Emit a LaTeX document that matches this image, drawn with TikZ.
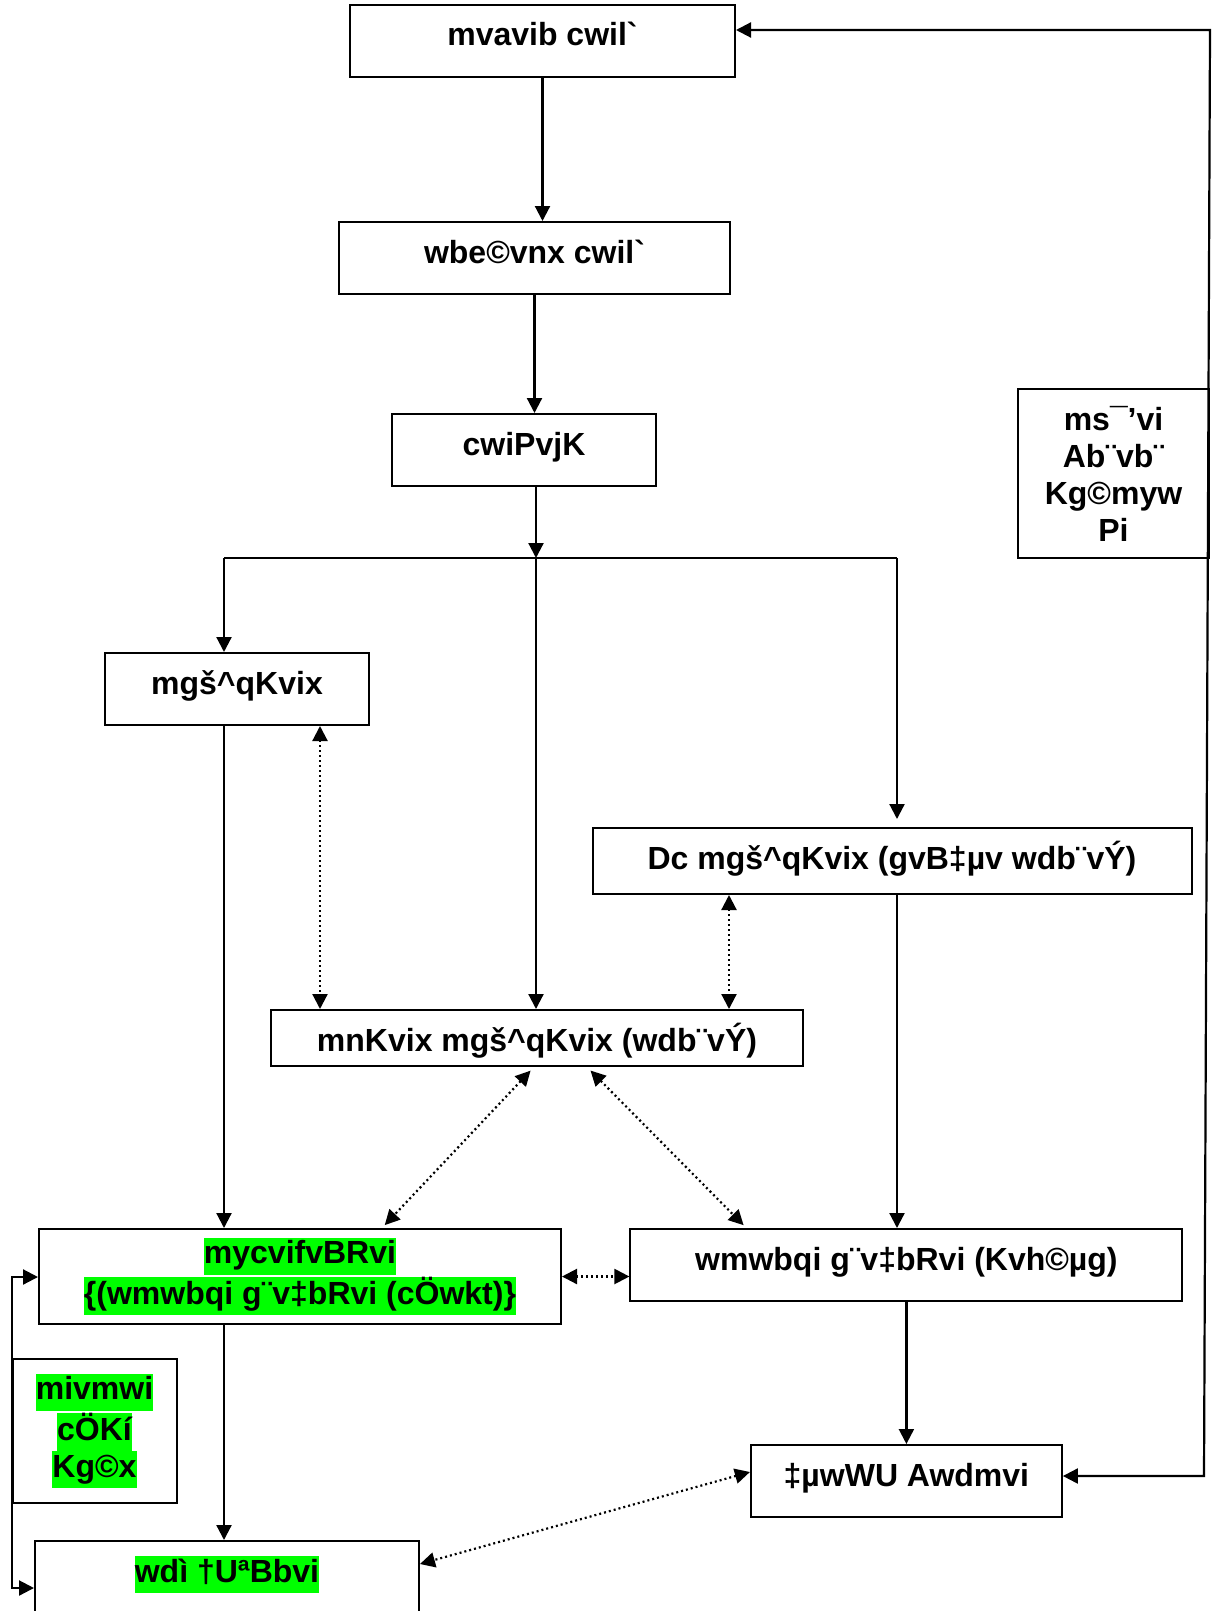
\documentclass[tikz,border=0pt]{standalone}
\usepackage{fontspec}
\setmainfont{Liberation Sans}[Ligatures=TeXOff]
\usetikzlibrary{arrows.meta}
\definecolor{hlgreen}{HTML}{00FF00}
\newcommand{\hlg}[1]{{\setlength{\fboxsep}{0pt}\colorbox{hlgreen}{\strut #1}}}
\tikzset{
box/.style={draw,line width=1pt,inner sep=0pt,align=center,font=\fontsize{16}{18.5}\selectfont\bfseries},
txt/.style={text height=20.5pt,text depth=#1},
arr/.style={line width=1.1pt,-{Triangle[length=7.5pt,width=7.5pt]}},
arrboth/.style={line width=1.1pt,{Triangle[length=7.5pt,width=7.5pt]}-{Triangle[length=7.5pt,width=7.5pt]}},
dotline/.style={line width=1.1pt,dash pattern=on 1pt off 1.5pt,{Triangle[length=7.5pt,width=7.5pt]}-{Triangle[length=7.5pt,width=7.5pt]}}
}

\begin{document}
\begin{tikzpicture}[x=0.5pt,y=-0.5pt]
\useasboundingbox (0,0) rectangle (1211,1611);
% boxes
\node[box,txt=15.5pt,minimum width=192.5pt] (plan) at (542.5,41) {mvavib cwil\symbol{96}};
\node[box,txt=15.5pt,minimum width=195.5pt] (detail) at (534.5,258) {wbe©vnx cwil\symbol{96}};
\node[box,txt=15.5pt,minimum width=132pt] (design) at (524,450) {cwiPvjK};
\node[box,txt=15.5pt,minimum width=132pt] (survey) at (237,689) {mgš\textasciicircum qKvix};
\node[box,txt=12.5pt,minimum width=299.5pt] (coord) at (892,861) {Dc mgš\textasciicircum qKvix (gvB‡µv wdb¨vÝ)};
\node[box,txt=7.5pt,minimum width=266pt] (field) at (537,1038) {mnKvix mgš\textasciicircum qKvix (wdb¨vÝ)};
\node[box,minimum width=261pt,minimum height=47.5pt] (manager) at (300,1276.5) {\hlg{mycvifvBRvi}\\\hlg{\{(wmwbqi g¨v‡bRvi (cÖwkt)\}}};
\node[box,txt=15.5pt,minimum width=276pt] (senior) at (906.4,1265) {wmwbqi g¨v‡bRvi (Kvh©µg)};
\node[box,txt=15.5pt,minimum width=155.5pt] (officer) at (906.4,1481) {‡µwWU Awdmvi};
\node[box,txt=15.5pt,minimum width=192pt] (trainer) at (227,1577) {\hlg{wdì †UªBbvi}};
\node[box,minimum width=95.5pt,minimum height=84.5pt] (others) at (1113.5,473.5) {ms¯’vi\\Ab¨vb¨\\Kg©myw\\Pi};
\node[box,minimum width=82pt,minimum height=72pt] (govt) at (94.5,1431) {\hlg{mivmwi}\\\hlg{cÖKí}\\\hlg{Kg©x}};

\coordinate (jl) at (224,558);
\coordinate (jc) at (536,558);
\coordinate (jr) at (897,558);
\coordinate (rb) at (1204,1476);
\coordinate (rt) at (1210,30);
\coordinate (lt) at (12,1277);
\coordinate (lb) at (12,1588);

% solid arrows
\draw[arr] (plan.south) -- (plan.south |- detail.north);
\draw[arr] (detail.south) -- (detail.south |- design.north);
\draw[arr] (design.south -| jc) -- (jc);
\draw[line width=1.1pt] (jl) -- (jr);
\draw[arr] (jl) -- (jl |- survey.north);
\draw[arr] (jc) -- (jc |- field.north);
\draw[arr,shorten >=4pt] (jr) -- (jr |- coord.north);
\draw[arr] (survey.south -| jl) -- (jl |- manager.north);
\draw[arr] (coord.south -| jr) -- (jr |- senior.north);
\draw[arr] (manager.south -| jl) -- (jl |- trainer.north);
\draw[arr] (senior.south) -- (officer.north);
\draw[arrboth] (rb -| officer.east) -- (rb) -- (rt) -- (rt -| plan.east);
\draw[arrboth] (lt -| manager.west) -- (lt) -- (lb) -- (lb -| trainer.west);

% dotted arrows
\draw[dotline] ([xshift=41.5pt]survey.south) -- ([xshift=41.5pt]survey.south |- field.north);
\draw[dotline] ([xshift=-81.5pt]coord.south) -- ([xshift=-81.5pt]coord.south |- field.north);
\draw[dotline,shorten <=2.5pt,shorten >=2pt] ([xshift=-1.5pt]field.south) -- ([xshift=41pt]manager.north);
\draw[dotline,shorten <=2.5pt,shorten >=2pt] ([xshift=25pt]field.south) -- ([xshift=-80pt]senior.north);
\draw[dotline] (manager.east) -- (manager.east -| senior.west);
\draw[dotline] ([yshift=4.5pt]officer.west) -- ([yshift=6.5pt]trainer.east);
\end{tikzpicture}
\end{document}
